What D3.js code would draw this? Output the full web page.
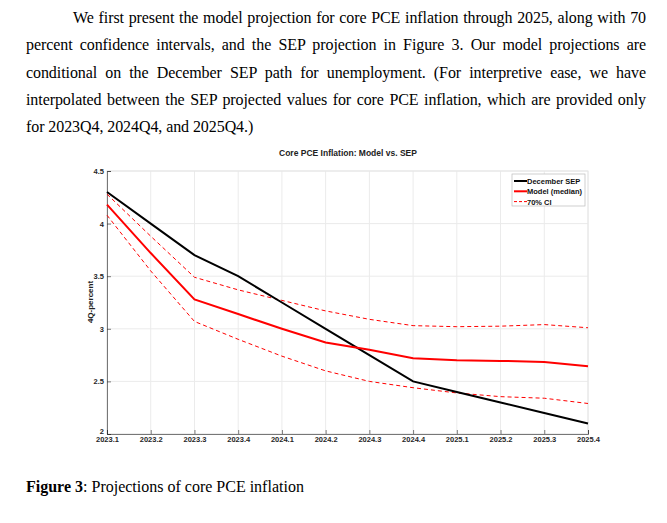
<!DOCTYPE html>
<html><head><meta charset="utf-8">
<script src="https://cdn.jsdelivr.net/npm/d3@7"></script>
<style>
body{margin:0;background:#fff;width:667px;height:523px;overflow:hidden}
#txt{position:absolute;left:26px;top:4px;width:620px;font-family:"Liberation Serif",serif;font-size:16px;letter-spacing:-0.08px;line-height:27.3px;text-align:justify;text-align-last:left;color:#000}
#cap{position:absolute;left:26px;top:478px;font-family:"Liberation Serif",serif;font-size:16px}
svg{position:absolute;left:0;top:0}
</style></head><body>
<div id="txt">&nbsp;&nbsp;&nbsp;&nbsp;&nbsp;&nbsp;&nbsp;&nbsp;&nbsp;&nbsp;We first present the model projection for core PCE inflation through 2025, along with 70 percent confidence intervals, and the SEP projection in Figure 3. Our model projections are conditional on the December SEP path for unemployment. (For interpretive ease, we have interpolated between the SEP projected values for core PCE inflation, which are provided only for 2023Q4, 2024Q4, and 2025Q4.)</div>
<div id="cap"><b>Figure 3</b>: Projections of core PCE inflation</div>
<script>
const quarters = ["2023.1","2023.2","2023.3","2023.4","2024.1","2024.2","2024.3","2024.4","2025.1","2025.2","2025.3","2025.4"];
const sep = [4.3,4.0,3.7,3.5,3.25,3.0,2.75,2.5,2.4,2.3,2.2,2.1];
const median = [4.18,3.72,3.28,3.14,3.0,2.87,2.8,2.72,2.70,2.695,2.685,2.645];
const upper = [4.28,3.88,3.49,3.37,3.27,3.17,3.09,3.03,3.02,3.025,3.04,3.01];
const lower = [4.08,3.55,3.07,2.9,2.74,2.6,2.50,2.44,2.39,2.355,2.34,2.29];
const yTicks = [2,2.5,3,3.5,4,4.5];

const svg = d3.select("body").append("svg").attr("width",667).attr("height",523);
const x = d3.scalePoint().domain(quarters).range([107,588]);
const y = d3.scaleLinear().domain([2,4.5]).range([434,171]);
const f = "Arial, 'Liberation Sans', sans-serif";

// grid
svg.append("g").selectAll("line").data(quarters).join("line")
  .attr("x1",d=>x(d)).attr("x2",d=>x(d)).attr("y1",171).attr("y2",434).attr("stroke","#ebebeb");
svg.append("g").selectAll("line").data(yTicks).join("line")
  .attr("x1",107).attr("x2",588).attr("y1",d=>y(d)).attr("y2",d=>y(d)).attr("stroke","#ebebeb");
svg.append("rect").attr("x",107).attr("y",171).attr("width",481).attr("height",263)
  .attr("fill","none").attr("stroke","#e6e6e6");

const xa = svg.append("g").attr("transform","translate(0,434)").call(d3.axisBottom(x).tickSize(-4).tickPadding(3));
const ya = svg.append("g").attr("transform","translate(107,0)").call(d3.axisLeft(y).tickValues(yTicks).tickFormat(d3.format("")).tickSize(-4).tickPadding(3));
[xa,ya].forEach(a=>{a.selectAll("text").attr("font-family",f).attr("font-size",7.5).attr("font-weight","bold").attr("fill","#262626");
  a.selectAll("path,line").attr("stroke","#262626").attr("stroke-width",0.6);});
ya.selectAll("text").filter(d=>d===2).attr("dy","-0.1em");

const line = d3.line().x((d,i)=>x(quarters[i])).y(d=>y(d));
svg.append("path").attr("d",line(upper)).attr("fill","none").attr("stroke","#f00").attr("stroke-dasharray","4,3").attr("stroke-width",1);
svg.append("path").attr("d",line(lower)).attr("fill","none").attr("stroke","#f00").attr("stroke-dasharray","4,3").attr("stroke-width",1);
svg.append("path").attr("d",line(sep)).attr("fill","none").attr("stroke","#000").attr("stroke-width",2);
svg.append("path").attr("d",line(median)).attr("fill","none").attr("stroke","#f00").attr("stroke-width",2);

svg.append("text").attr("x",348).attr("y",156).attr("text-anchor","middle").attr("font-family",f)
  .attr("font-size",8.5).attr("font-weight","bold").attr("fill","#222").text("Core PCE Inflation: Model vs. SEP");
svg.append("text").attr("transform","translate(93,302) rotate(-90)").attr("text-anchor","middle").attr("font-family",f)
  .attr("font-size",8).attr("font-weight","bold").attr("fill","#222").text("4Q-percent");

// legend
const lg = svg.append("g").attr("transform","translate(512,174)");
lg.append("rect").attr("width",73).attr("height",32).attr("fill","#fff").attr("stroke","#bbb").attr("stroke-width",0.7);
const items = [["December SEP","#000",null,2],["Model (median)","#f00",null,2],["70% CI","#f00","3,2",1]];
items.forEach((it,i)=>{
  const yy = 7+i*10.3;
  lg.append("line").attr("x1",2).attr("x2",15).attr("y1",yy).attr("y2",yy).attr("stroke",it[1]).attr("stroke-width",it[3]).attr("stroke-dasharray",it[2]);
  lg.append("text").attr("x",15).attr("y",yy+3).attr("font-family",f).attr("font-size",7.5).attr("font-weight","bold").attr("fill","#111").text(it[0]);
});
</script>
</body></html>
